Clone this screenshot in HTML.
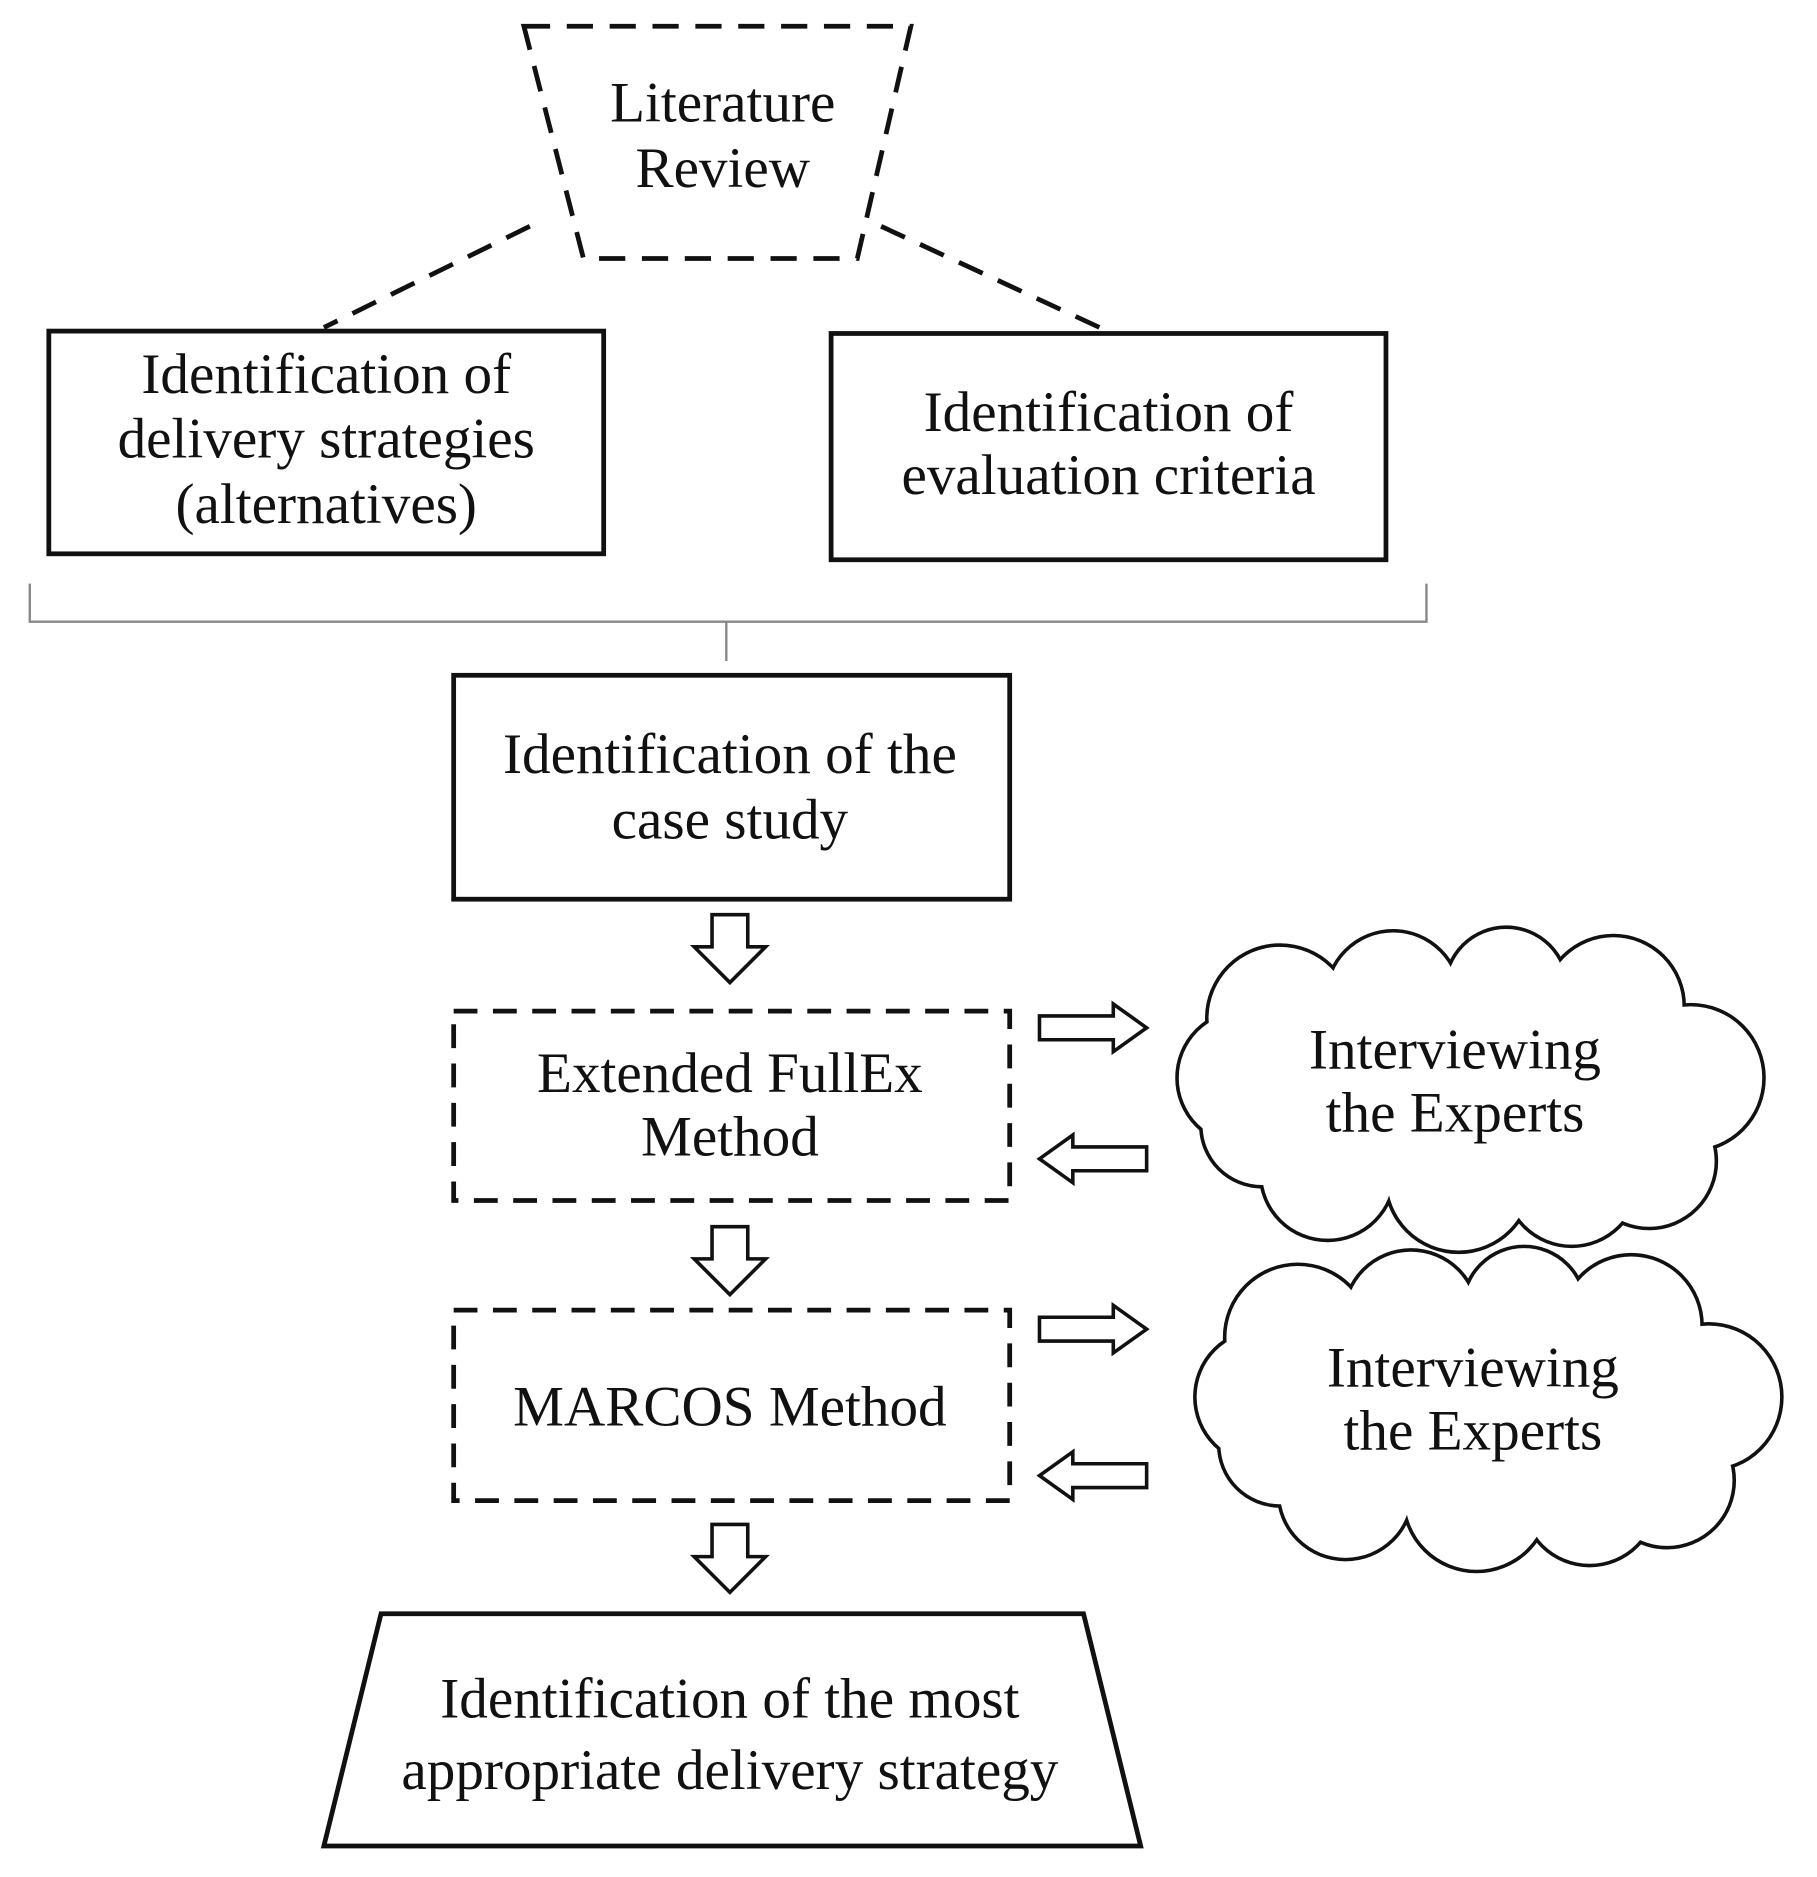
<!DOCTYPE html>
<html><head><meta charset="utf-8"><style>
html,body{margin:0;padding:0;background:#fff;}
svg{display:block;}
text{font-family:"Liberation Serif",serif;font-size:48px;fill:#111;text-anchor:middle;}
</style></head><body>
<svg width="1817" height="1877" viewBox="0 0 1526 1576" preserveAspectRatio="none">
<g fill="none" stroke="#111" stroke-width="4">
<polygon points="440,22 765,22 720,217 490,217" stroke-dasharray="22,14"/>
<line x1="445" y1="190" x2="272" y2="275" stroke-dasharray="22,14"/>
<line x1="740" y1="190" x2="930" y2="278" stroke-dasharray="22,14"/>
<rect x="41" y="278" width="466" height="187"/>
<rect x="698" y="280" width="466" height="190"/>
<rect x="381" y="567" width="467" height="188"/>
<rect x="381" y="849" width="467" height="159" stroke-dasharray="20,13"/>
<rect x="381" y="1100" width="467" height="160" stroke-dasharray="20,13"/>
<polygon points="320,1355 910,1355 958,1550 272,1550"/>
</g>
<g fill="none" stroke="#888" stroke-width="2">
<polyline points="25,490 25,522 1198,522 1198,490"/>
<line x1="610" y1="522" x2="610" y2="555"/>
</g>
<g fill="#fff" stroke="#111" stroke-width="3">
<polygon points="598,768 628,768 628,795 643,795 613,825 583,795 598,795"/>
<polygon points="598,1030 628,1030 628,1057 643,1057 613,1087 583,1057 598,1057"/>
<polygon points="598,1280 628,1280 628,1307 643,1307 613,1337 583,1307 598,1307"/>
<polygon points="873,853 935,853 935,843 963,863 935,883 935,873 873,873"/>
<polygon points="963,963 901,963 901,953 873,973 901,993 901,983 963,983"/>
<polygon points="873,1106 935,1106 935,1096 963,1116 935,1136 935,1126 873,1126"/>
<polygon points="963,1229 901,1229 901,1219 873,1239 901,1259 901,1249 963,1249"/>
</g>
<defs>
<g id="cloud">
<circle cx="1075" cy="855" r="60"/>
<circle cx="1170" cy="838" r="55"/>
<circle cx="1265" cy="830" r="50"/>
<circle cx="1355" cy="845" r="58"/>
<circle cx="1420" cy="905" r="60"/>
<circle cx="1385" cy="975" r="55"/>
<circle cx="1320" cy="990" r="55"/>
<circle cx="1225" cy="990" r="60"/>
<circle cx="1115" cy="985" r="55"/>
<circle cx="1060" cy="945" r="50"/>
<circle cx="1045" cy="905" r="55"/>
</g>
</defs>
<g stroke="#111" stroke-width="6" fill="#fff"><use href="#cloud"/></g>
<g fill="#fff"><use href="#cloud"/><ellipse cx="1235" cy="915" rx="190" ry="95"/></g>
<g transform="translate(15,268)">
<g stroke="#111" stroke-width="6" fill="#fff"><use href="#cloud"/></g>
<g fill="#fff"><use href="#cloud"/><ellipse cx="1235" cy="915" rx="190" ry="95"/></g>
</g>
<text x="607" y="102">Literature</text>
<text x="607" y="157">Review</text>
<text x="274" y="330">Identification of</text>
<text x="274" y="384">delivery strategies</text>
<text x="274" y="439">(alternatives)</text>
<text x="931" y="362">Identification of</text>
<text x="931" y="415">evaluation criteria</text>
<text x="613" y="649">Identification of the</text>
<text x="613" y="704">case study</text>
<text x="613" y="917">Extended FullEx</text>
<text x="613" y="970">Method</text>
<text x="613" y="1197">MARCOS Method</text>
<text x="1222" y="897">Interviewing</text>
<text x="1222" y="950">the Experts</text>
<text x="1237" y="1164">Interviewing</text>
<text x="1237" y="1217">the Experts</text>
<text x="613" y="1442">Identification of the most</text>
<text x="613" y="1502">appropriate delivery strategy</text>
</svg>
</body></html>
